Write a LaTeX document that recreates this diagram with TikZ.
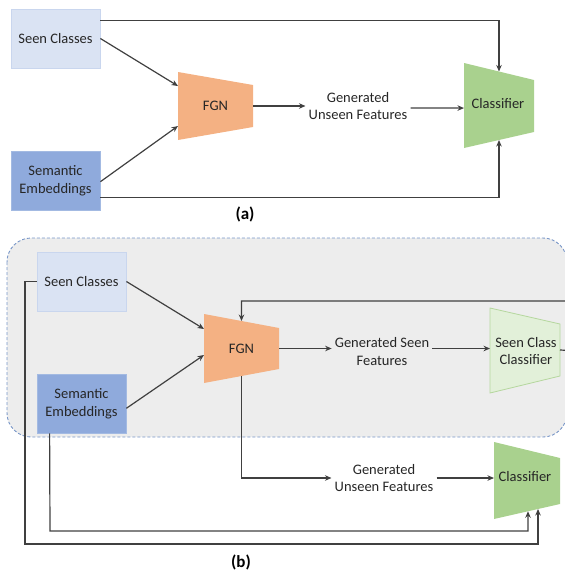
\documentclass[tikz,border=0pt]{standalone}
\usepackage{fontspec}
\setmainfont{Carlito}
\usetikzlibrary{arrows.meta,calc}
\definecolor{seenfill}{HTML}{DAE3F3}
\definecolor{seendraw}{HTML}{C9D6EE}
\definecolor{semfill}{HTML}{8FAADC}
\definecolor{semdraw}{HTML}{A3BAE2}
\definecolor{fgncol}{HTML}{F4B183}
\definecolor{clscol}{HTML}{A9D18E}
\definecolor{sccfill}{HTML}{E2F0D9}
\definecolor{sccdraw}{HTML}{B5D79E}
\definecolor{linecol}{HTML}{404040}
\definecolor{txtcol}{HTML}{262626}
\definecolor{panelfill}{HTML}{EDEDED}
\definecolor{paneldraw}{HTML}{7896C8}
\begin{document}
\begin{tikzpicture}[x=1pt,y=-1pt,
  every node/.style={text=txtcol,font=\fontsize{14.5}{17.5}\selectfont,align=center},
  seenbox/.style={draw=seendraw,fill=seenfill,line width=0.8pt,minimum width=89pt,minimum height=59pt,inner sep=0pt},
  sembox/.style={draw=semdraw,fill=semfill,line width=0.8pt,minimum width=89pt,minimum height=59pt,inner sep=0pt},
  lbl/.style={inner sep=3pt},
  conn/.style={draw=linecol,line width=1.2pt},
  arr/.style={conn,-{Stealth[length=6.5pt,width=5.5pt]}},
  caption/.style={font=\fontsize{17}{20}\selectfont\bfseries,text=black}]
\useasboundingbox (0,0) rectangle (565,571);
\clip (0,0) rectangle (565,571);

% ---------------- (a) ----------------
\node[seenbox] (sc1) at (55.5,38.5) {Seen Classes};
\node[sembox] (se1) at (55.5,180.5) {Semantic\\Embeddings};

\coordinate (fa1) at (178,72);
\coordinate (fa2) at (253,85);
\coordinate (fa3) at (253,127);
\coordinate (fa4) at (178,140);
\fill[fgncol] (fa1) -- (fa2) -- (fa3) -- (fa4) -- cycle;
\node (fgn1) at (215.5,106) {FGN};

\coordinate (ca1) at (464,63);
\coordinate (ca2) at (534,80);
\coordinate (ca3) at (534,132);
\coordinate (ca4) at (464,148);
\fill[clscol] (ca1) -- (ca2) -- (ca3) -- (ca4) -- cycle;
\node (cls1) at (498,104) {Classifier};

\node[lbl] (gu1) at (358,106) {Generated\\Unseen Features};

\coordinate (faR) at ($(fa2)!0.5!(fa3)$);
\draw[arr] (sc1.east) -- ($(fa1)!0.206!(fa4)$);
\draw[arr] ($(se1.north east)!0.52!(se1.south east)$) -- ($(fa1)!0.794!(fa4)$);
\draw[arr] ($(sc1.north east)!0.2!(sc1.south east)$) -| ($(ca1)!0.5!(ca2)$);
\draw[arr] ($(se1.north east)!0.78!(se1.south east)$) -| ($(ca4)!0.5!(ca3)$);
\draw[arr] (faR) -- (gu1.west |- faR);
\draw[arr] ($(gu1.east)+(0,2)$) -- ($(ca1)!0.53!(ca4)$);

\node[caption] (capa) at (245,214) {(a)};

% ---------------- (b) ----------------
\filldraw[fill=panelfill,draw=paneldraw,line width=0.9pt,dash pattern=on 3pt off 2pt,rounded corners=24pt]
  (7,238) rectangle (567,437);

\node[seenbox] (sc2) at (81.5,281.5) {Seen Classes};
\node[sembox] (se2) at (81.5,403.5) {Semantic\\Embeddings};

\coordinate (fb1) at (204,314);
\coordinate (fb2) at (279,328);
\coordinate (fb3) at (279,369);
\coordinate (fb4) at (204,383);
\fill[fgncol] (fb1) -- (fb2) -- (fb3) -- (fb4) -- cycle;
\node (fgn2) at (241.5,348.5) {FGN};

\coordinate (sb1) at (490,308);
\coordinate (sb2) at (560,324);
\coordinate (sb3) at (560,376);
\coordinate (sb4) at (490,393);
\filldraw[fill=sccfill,draw=sccdraw,line width=0.8pt] (sb1) -- (sb2) -- (sb3) -- (sb4) -- cycle;
\node (scc) at (526,351) {Seen Class\\Classifier};

\coordinate (cb1) at (494,442);
\coordinate (cb2) at (560,458);
\coordinate (cb3) at (560,504);
\coordinate (cb4) at (494,519);
\fill[clscol] (cb1) -- (cb2) -- (cb3) -- (cb4) -- cycle;
\node (cls2) at (525,477) {Classifier};

\node[lbl] (gs) at (382,351.5) {Generated Seen\\Features};
\node[lbl] (gu2) at (384,478) {Generated\\Unseen Features};

\coordinate (fgnR) at ($(fb2)!0.5!(fb3)$);
\coordinate (fgnT) at ($(fb1)!0.5!(fb2)$);
\coordinate (fgnB) at ($(fb4)!0.5!(fb3)$);
\coordinate (fgnTop) at ($(fgnT)+(0,-20)$);
\coordinate (sccR) at ($(sb2)!0.5!(sb3)$);
\coordinate (offR) at (580,351);

\draw[arr] (sc2.east) -- ($(fb1)!0.217!(fb4)$);
\draw[arr] ($(se2.north east)!0.58!(se2.south east)$) -- ($(fb1)!0.594!(fb4)$);
\draw[arr] (fgnR) -- (gs.west |- fgnR);
\draw[arr] (gs.east |- fgnR) -- (sb1 |- fgnR);
\draw[arr] (sccR) -- (offR) |- (fgnTop) -- (fgnT);
\draw[arr] (fgnB) |- (gu2.west);
\draw[arr] (gu2.east) -- (gu2.east -| cb1);
\draw[arr] (sc2.west) -- (25,281.5) -- (25,544) -| ($(cb4)!0.667!(cb3)$);
\draw[arr] ($(se2.south west)+(13,0)$) -- (50,531) -| ($(cb4)!0.515!(cb3)$);

\node[caption] (capb) at (241,562) {(b)};
\end{tikzpicture}
\end{document}
